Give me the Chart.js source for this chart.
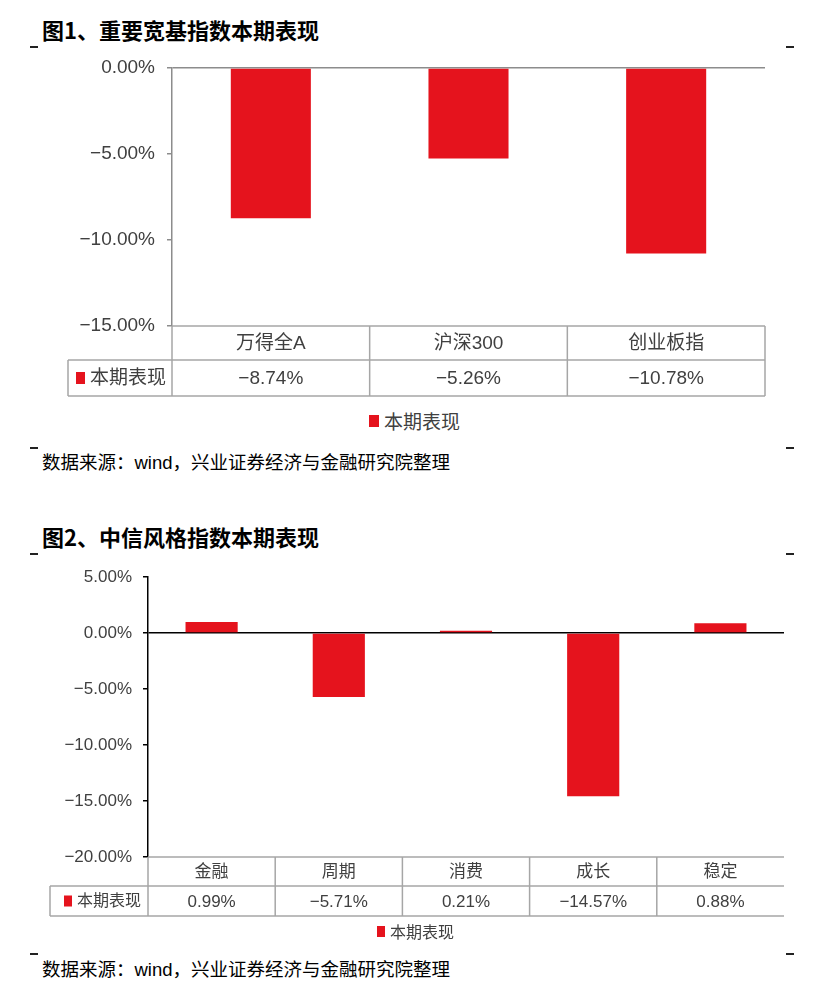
<!DOCTYPE html>
<html>
<head>
<meta charset="utf-8">
<script src="https://cdn.jsdelivr.net/npm/chart.js@4.4.0/dist/chart.umd.min.js"></script>
<style>
  body { margin: 0; background: #fff; }
  #page { position: relative; width: 837px; height: 1002px; overflow: hidden; }
  .title { position: absolute; left: 42px; font: bold 22px/22px "Noto Sans CJK SC", sans-serif; color: #000; white-space: nowrap; }
  .src { position: absolute; left: 42px; font: 18.5px/19px "Liberation Sans", "Noto Sans CJK SC", sans-serif; color: #000; white-space: nowrap; }
  .mark { position: absolute; width: 8px; height: 1.5px; background: #222; }
  .lg { position: absolute; display: flex; align-items: center; color: #404040; font-family: "Noto Sans CJK SC", sans-serif; white-space: nowrap; }
  .lg i { display: inline-block; background: #e5131d; }
  canvas { position: absolute; left: 0; }
</style>
</head>
<body>
<div id="page">
  <div class="title" style="top:18px">图1、重要宽基指数本期表现</div>
  <div class="mark" style="left:30px;top:46px"></div>
  <div class="mark" style="left:786px;top:46px"></div>
  <canvas id="c1" width="837" height="350" style="top:50px"></canvas>
  <div class="lg" style="left:369px;top:410px;font-size:19px;line-height:22px"><i style="width:10px;height:12px;margin-right:5px"></i>本期表现</div>
  <div class="mark" style="left:30px;top:447px"></div>
  <div class="mark" style="left:786px;top:447px"></div>
  <div class="src" style="top:453px">数据来源：wind，兴业证券经济与金融研究院整理</div>

  <div class="title" style="top:525px">图2、中信风格指数本期表现</div>
  <div class="mark" style="left:30px;top:553px"></div>
  <div class="mark" style="left:786px;top:553px"></div>
  <canvas id="c2" width="837" height="360" style="top:560px"></canvas>
  <div class="lg" style="left:377px;top:921px;font-size:16px;line-height:20px"><i style="width:8px;height:11px;margin-right:5px"></i>本期表现</div>
  <div class="mark" style="left:30px;top:953px"></div>
  <div class="mark" style="left:786px;top:953px"></div>
  <div class="src" style="top:960px">数据来源：wind，兴业证券经济与金融研究院整理</div>
</div>

<script>
// 数据
const seriesName = '本期表现';
const cats1 = ['万得全A', '沪深300', '创业板指'];
const vals1 = [-8.74, -5.26, -10.78];
const ticks1 = [0, -5, -10, -15];

const cats2 = ['金融', '周期', '消费', '成长', '稳定'];
const vals2 = [0.99, -5.71, 0.21, -14.57, 0.88];
const ticks2 = [5, 0, -5, -10, -15, -20];

const red = '#e5131d';
const family = '"Liberation Sans", "Noto Sans CJK SC", sans-serif';
Chart.defaults.font.family = family;
Chart.defaults.color = '#404040';

const pct = v => (v < 0 ? '\u2212' : '') + Math.abs(v).toFixed(2) + '%';

// Tableau de données sous l'axe X
const dataTable = {
  id: 'dataTable',
  afterDraw(chart, args, o) {
    const { ctx, chartArea: a, scales: { x } } = chart;
    const labels = chart.data.labels;
    const vals = chart.data.datasets[0].data;
    const n = labels.length;
    const top = a.bottom, mid = top + o.row1, bot = mid + o.row2;
    const edges = [];
    for (let i = 0; i <= n; i++) {
      if (i === 0) edges.push(a.left);
      else if (i === n) edges.push(a.right);
      else edges.push((x.getPixelForValue(i - 1) + x.getPixelForValue(i)) / 2);
    }
    ctx.save();
    ctx.strokeStyle = o.lineColor;
    ctx.lineWidth = 1.5;
    ctx.beginPath();
    ctx.moveTo(a.left, top); ctx.lineTo(a.right, top);
    ctx.moveTo(o.left, mid); ctx.lineTo(a.right, mid);
    ctx.moveTo(o.left, bot); ctx.lineTo(a.right, bot);
    ctx.moveTo(o.left, mid); ctx.lineTo(o.left, bot);
    edges.forEach((e, i) => {
      if (i === n && !o.rightBorder) return;
      ctx.moveTo(e, top); ctx.lineTo(e, bot);
    });
    ctx.stroke();

    ctx.fillStyle = '#404040';
    ctx.textAlign = 'center';
    ctx.textBaseline = 'middle';
    ctx.font = o.fontSize + 'px ' + family;
    labels.forEach((lab, i) => {
      const cx = x.getPixelForValue(i);
      ctx.fillText(lab, cx, (top + mid) / 2 + 1);
      ctx.fillText(pct(vals[i]), cx, (mid + bot) / 2 + 1);
    });
    // légende dans la première cellule
    ctx.fillStyle = red;
    ctx.fillRect(o.left + o.keyPad, (mid + bot) / 2 - o.keyH / 2, o.keyW, o.keyH);
    ctx.fillStyle = '#404040';
    ctx.textAlign = 'left';
    ctx.font = o.keyFont + 'px ' + family;
    ctx.fillText(seriesName, o.left + o.keyPad + o.keyW + 5, (mid + bot) / 2 + 1);
    ctx.restore();
  }
};

function makeChart(id, cats, vals, ticks, cfg) {
  return new Chart(document.getElementById(id), {
    type: 'bar',
    data: {
      labels: cats,
      datasets: [{
        label: seriesName,
        data: vals,
        backgroundColor: red,
        borderWidth: 0,
        categoryPercentage: 1,
        barPercentage: cfg.barPct
      }]
    },
    options: {
      responsive: false,
      animation: false,
      layout: { padding: cfg.padding },
      scales: {
        x: {
          grid: { display: false },
          border: { display: false },
          ticks: { display: false },
          afterFit: s => { s.height = cfg.tableH; }
        },
        y: {
          min: Math.min(...ticks),
          max: Math.max(...ticks),
          afterBuildTicks: s => { s.ticks = ticks.map(v => ({ value: v })); },
          afterFit: s => {
            s.width = cfg.yWidth;
            s.paddingTop = 0;      // pas de marge auto pour les libellés
            s.paddingBottom = 0;
          },
          border: { display: true, color: cfg.axisColor, width: 1.5 },
          grid: {
            color: c => (c.tick && c.tick.value === 0) ? cfg.axisColor : 'rgba(0,0,0,0)',
            lineWidth: 1.5,
            tickColor: cfg.axisColor,
            tickLength: 5
          },
          ticks: {
            padding: cfg.tickPad,
            color: '#404040',
            font: { size: cfg.tickFont },
            callback: v => pct(v)
          }
        }
      },
      plugins: {
        legend: { display: false },
        tooltip: { enabled: false },
        dataTable: cfg.table
      }
    },
    plugins: [dataTable]
  });
}

makeChart('c1', cats1, vals1, ticks1, {
  barPct: 0.405,
  padding: { top: 18, left: 68, right: 72, bottom: 4 },
  tableH: 70,
  yWidth: 104,
  axisColor: '#8c8c8c',
  tickPad: 12,
  tickFont: 19,
  table: { row1: 34, row2: 36, left: 68, lineColor: '#a6a6a6', fontSize: 19,
           keyFont: 19, keyPad: 8, keyW: 9, keyH: 12, rightBorder: true }
});

makeChart('c2', cats2, vals2, ticks2, {
  barPct: 0.41,
  padding: { top: 17, left: 50, right: 53, bottom: 4 },
  tableH: 59,
  yWidth: 98,
  axisColor: '#000',
  tickPad: 11,
  tickFont: 17,
  table: { row1: 29, row2: 30, left: 50, lineColor: '#a6a6a6', fontSize: 17,
           keyFont: 16, keyPad: 14, keyW: 8, keyH: 11, rightBorder: false }
});
</script>
</body>
</html>
